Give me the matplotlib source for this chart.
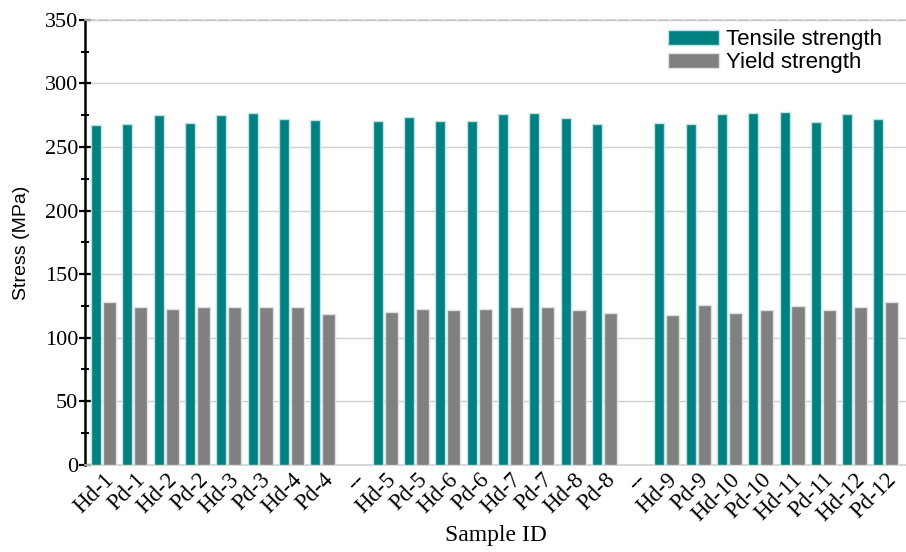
import numpy as np
import matplotlib

matplotlib.use("Agg")
import matplotlib.pyplot as plt
from matplotlib.ticker import MultipleLocator

# sample labels; "--" entries are spacers between the three batches
samples = [
    "Hd-1", "Pd-1", "Hd-2", "Pd-2", "Hd-3", "Pd-3", "Hd-4", "Pd-4", "--",
    "Hd-5", "Pd-5", "Hd-6", "Pd-6", "Hd-7", "Pd-7", "Hd-8", "Pd-8", "--",
    "Hd-9", "Pd-9", "Hd-10", "Pd-10", "Hd-11", "Pd-11", "Hd-12", "Pd-12",
]
tensile = [
    267.5, 268.3, 275.4, 268.9, 275.4, 276.8, 272.2, 271.4, np.nan,
    270.8, 273.2, 270.8, 270.1, 275.6, 276.8, 272.7, 268.3, np.nan,
    268.8, 267.8, 275.6, 277.0, 277.2, 269.3, 275.9, 272.2,
]
yield_ = [
    127.8, 123.8, 122.8, 123.8, 124.4, 124.4, 123.8, 118.6, np.nan,
    119.8, 122.4, 121.5, 122.7, 124.4, 124.4, 121.9, 119.4, np.nan,
    117.5, 125.9, 119.7, 121.8, 124.6, 121.8, 124.1, 127.8,
]

TEAL = "#008080"
GREY = "#808080"
SANS = ["Liberation Sans", "DejaVu Sans"]

plt.rcParams["font.family"] = ["Liberation Serif", "DejaVu Serif"]

fig = plt.figure(figsize=(9.06, 5.52), dpi=100)
ax = fig.add_axes([0.094, 0.158, 0.906, 0.806])

x = np.arange(len(samples))
ax.bar(x - 0.24, tensile, width=0.32, color=TEAL, edgecolor="#bfe3e1",
       linewidth=1.0, label="Tensile strength", zorder=3)
ax.bar(x + 0.19, yield_, width=0.42, color=GREY, edgecolor="#e0e0e0",
       linewidth=1.0, label="Yield strength", zorder=3)

ax.set_xlim(-0.59, 25.64)
ax.set_ylim(0, 350)
ax.yaxis.set_major_locator(MultipleLocator(50))
ax.yaxis.set_minor_locator(MultipleLocator(25))
ax.grid(axis="y", color="#d0d0d0", linewidth=1.0, zorder=0)
ax.set_axisbelow(True)

ax.spines["right"].set_visible(False)
ax.spines["top"].set_color("#c8c8c8")
ax.spines["top"].set_linestyle((0, (6, 2)))
ax.spines["top"].set_linewidth(1.2)
ax.spines["bottom"].set_color("#d0d0d0")
ax.spines["bottom"].set_linewidth(1.2)
ax.spines["left"].set_linewidth(1.8)

ax.tick_params(axis="y", which="major", direction="inout", length=8, width=1.6,
               labelsize=16, pad=1)
ax.tick_params(axis="y", which="minor", direction="inout", length=6, width=1.4)
ax.tick_params(axis="x", length=0, labelsize=16.5, pad=3)

ax.set_xticks(x)
ax.set_xticklabels(samples, rotation=45, ha="right", rotation_mode="anchor")

ax.set_ylabel("Stress (MPa)", family=SANS, fontsize=14, labelpad=11)
ax.set_xlabel("Sample ID", fontsize=17, labelpad=0)

ax.legend(loc="upper right", bbox_to_anchor=(0.991, 1.017), frameon=False,
          prop={"family": SANS, "size": 16},
          handlelength=2.3, handleheight=0.65, labelspacing=0.1,
          handletextpad=0.3, borderpad=0.25)

fig.savefig("out.png", dpi=100)
